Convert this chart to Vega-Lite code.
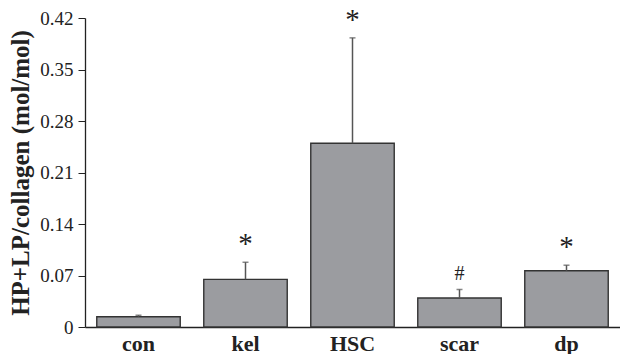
{
  "$schema": "https://vega.github.io/schema/vega-lite/v6.json",
  "autosize": {"type": "none"},
  "padding": {"left": 85, "top": 18, "right": 0, "bottom": 27},
  "width": 535,
  "height": 309,
  "background": "white",
  "config": {"view": {"stroke": null}},
  "data": {
    "values": [
      {"group": "con", "value": 0.014, "upper": 0.016, "mark": ""},
      {"group": "kel", "value": 0.0648, "upper": 0.088, "mark": "*"},
      {"group": "HSC", "value": 0.2497, "upper": 0.393, "mark": "*"},
      {"group": "scar", "value": 0.0394, "upper": 0.051, "mark": "#"},
      {"group": "dp", "value": 0.0765, "upper": 0.084, "mark": "*"}
    ]
  },
  "encoding": {
    "x": {
      "field": "group",
      "type": "nominal",
      "sort": null,
      "scale": {"paddingInner": 0.22, "paddingOuter": 0.11},
      "axis": {
        "title": null,
        "labelAngle": 0,
        "ticks": false,
        "labelPadding": 6,
        "labelFont": "Liberation Serif",
        "labelFontSize": 22,
        "labelFontWeight": "bold",
        "labelColor": "#222",
        "domainColor": "#222",
        "domainWidth": 1.3
      }
    }
  },
  "layer": [
    {
      "mark": {"type": "bar", "color": "#9b9ca0", "stroke": "#333", "strokeWidth": 1.4},
      "encoding": {
        "y": {
          "field": "value",
          "type": "quantitative",
          "scale": {"domain": [0, 0.42], "nice": false},
          "axis": {
            "values": [0, 0.07, 0.14, 0.21, 0.28, 0.35, 0.42],
            "labelExpr": "datum.value == 0 ? '0' : format(datum.value, '.2f')",
            "grid": false,
            "title": "HP+LP/collagen (mol/mol)",
            "titleFont": "Liberation Serif",
            "titleFontSize": 25,
            "titleFontWeight": "bold",
            "titleColor": "#222",
            "titlePadding": 6,
            "labelFont": "Liberation Serif",
            "labelFontSize": 19,
            "labelColor": "#222",
            "tickSize": 7,
            "tickColor": "#222",
            "domainColor": "#222",
            "domainWidth": 1.3,
            "labelPadding": 5
          }
        }
      }
    },
    {
      "mark": {"type": "rule", "color": "#555", "strokeWidth": 1.5},
      "encoding": {
        "y": {"field": "value", "type": "quantitative"},
        "y2": {"field": "upper"}
      }
    },
    {
      "mark": {"type": "tick", "color": "#555", "thickness": 1.5, "size": 6, "orient": "horizontal"},
      "encoding": {
        "y": {"field": "upper", "type": "quantitative"}
      }
    },
    {
      "transform": [{"filter": "datum.mark == '*'"}],
      "mark": {"type": "text", "font": "Liberation Serif", "fontSize": 29, "color": "#222", "baseline": "bottom", "dy": -3},
      "encoding": {
        "y": {"field": "upper", "type": "quantitative"},
        "text": {"field": "mark"}
      }
    },
    {
      "transform": [{"filter": "datum.mark == '#'"}],
      "mark": {"type": "text", "font": "Liberation Serif", "fontSize": 20, "color": "#222", "baseline": "bottom", "dy": -5},
      "encoding": {
        "y": {"field": "upper", "type": "quantitative"},
        "text": {"field": "mark"}
      }
    }
  ]
}
